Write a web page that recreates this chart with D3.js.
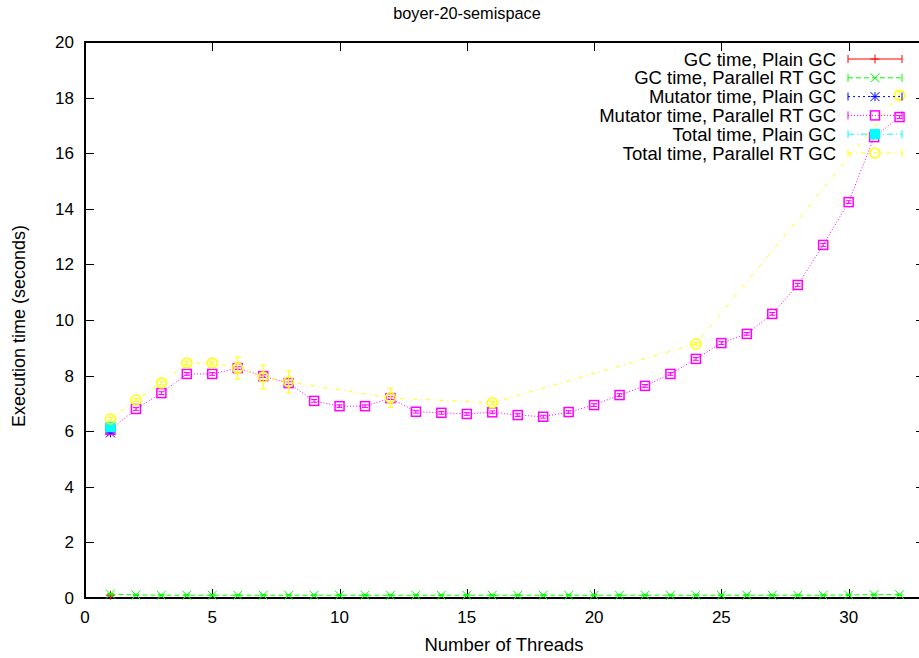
<!DOCTYPE html>
<html>
<head>
<meta charset="utf-8">
<script src="https://cdn.jsdelivr.net/npm/d3@7"></script>
<style>
  body { margin: 0; background: #fff; }
  text { font-family: "Liberation Sans", Arial, sans-serif; font-size: 17px; fill: #000; }
</style>
</head>
<body>
<svg width="919" height="658"></svg>
<script>
// data
var threadsAll = d3.range(1, 33);
var threadsTotalRT = [1, 2, 3, 4, 5, 6, 7, 8, 12, 16, 24, 32];

var gcPlain = [0.1];
var gcPlainErr = [0.03];
var gcRT = [0.14, 0.11, 0.1, 0.1, 0.1, 0.1, 0.1, 0.1, 0.1, 0.1, 0.1, 0.1, 0.1, 0.1, 0.1, 0.1,
            0.1, 0.1, 0.1, 0.1, 0.1, 0.1, 0.1, 0.1, 0.1, 0.1, 0.1, 0.1, 0.1, 0.11, 0.12, 0.12];
var gcRTErr = threadsAll.map(function(){ return 0.02; });
var mutPlain = [5.94];
var mutPlainErr = [0.03];
var mutRT = [6.05, 6.8, 7.37, 8.06, 8.06, 8.27, 7.98, 7.73, 7.09, 6.9, 6.9, 7.19, 6.7, 6.66, 6.62, 6.68,
             6.58, 6.52, 6.69, 6.94, 7.3, 7.63, 8.06, 8.6, 9.17, 9.5, 10.22, 11.26, 12.7, 14.24, 16.58, 17.3];
var mutRTErr = threadsAll.map(function(){ return 0.05; });
var totPlain = [6.15];
var totPlainErr = [0.03];
var totRT = [6.44, 7.12, 7.73, 8.45, 8.45, 8.27, 7.95, 7.77, 7.2, 7.02, 9.14, 18.08];
var totRTErr = [0.05, 0.05, 0.05, 0.05, 0.05, 0.4, 0.42, 0.4, 0.35, 0.05, 0.05, 0.15];

var xTicks = [0, 5, 10, 15, 20, 25, 30];
var yTicks = d3.range(0, 21, 2);

var series = [
  { name: 'GC time, Plain GC', xs: [1], ys: gcPlain, err: gcPlainErr, color: '#ff0000', dash: null, marker: 'plus' },
  { name: 'GC time, Parallel RT GC', xs: threadsAll, ys: gcRT, err: gcRTErr, color: '#00ff00', dash: '5,3', marker: 'cross' },
  { name: 'Mutator time, Plain GC', xs: [1], ys: mutPlain, err: mutPlainErr, color: '#0000ff', dash: '2,3', marker: 'star' },
  { name: 'Mutator time, Parallel RT GC', xs: threadsAll, ys: mutRT, err: mutRTErr, color: '#ff00ff', dash: '1,2', marker: 'square' },
  { name: 'Total time, Plain GC', xs: [1], ys: totPlain, err: totPlainErr, color: '#00ffff', dash: '6,3,1,3', marker: 'fsquare' },
  { name: 'Total time, Parallel RT GC', xs: threadsTotalRT, ys: totRT, err: totRTErr, color: '#ffff00', dash: '4,4,1,4', marker: 'circle' }
];

(function(){
  var svg = d3.select('svg');
  var plotLeft = 85, plotTop = 42, plotBottom = 598, plotRight = 925;

  var x = d3.scaleLinear().domain([0, 33]).range([plotLeft, plotRight]);
  var y = d3.scaleLinear().domain([0, 20]).range([plotBottom, plotTop]);

  // title and axis labels
  svg.append('text').attr('x', 467).attr('y', 19).attr('text-anchor', 'middle')
    .style('font-size', '16.3px').text('boyer-20-semispace');
  svg.append('text').attr('x', 504).attr('y', 651).attr('text-anchor', 'middle')
    .style('font-size', '18.5px').text('Number of Threads');
  svg.append('text').attr('transform', 'translate(25,326) rotate(-90)').attr('text-anchor', 'middle')
    .style('font-size', '18px').text('Execution time (seconds)');

  // ticks, inward and mirrored like gnuplot
  var tickLen = 9;
  var axes = svg.append('g').attr('stroke', '#000').attr('stroke-width', 1);
  yTicks.forEach(function(t){
    var yy = Math.round(y(t)) + 0.5;
    axes.append('line').attr('x1', plotLeft).attr('x2', plotLeft + tickLen).attr('y1', yy).attr('y2', yy);
    axes.append('line').attr('x1', plotRight - tickLen).attr('x2', plotRight).attr('y1', yy).attr('y2', yy);
    svg.append('text').attr('x', plotLeft - 11).attr('y', y(t) + 6).attr('text-anchor', 'end').text(t);
  });
  xTicks.forEach(function(t){
    var xx = Math.round(x(t)) + 0.5;
    axes.append('line').attr('x1', xx).attr('x2', xx).attr('y1', plotBottom).attr('y2', plotBottom - tickLen);
    axes.append('line').attr('x1', xx).attr('x2', xx).attr('y1', plotTop).attr('y2', plotTop + tickLen);
    svg.append('text').attr('x', x(t)).attr('y', plotBottom + 25).attr('text-anchor', 'middle').text(t);
  });
  svg.append('rect').attr('x', plotLeft).attr('y', plotTop)
    .attr('width', plotRight - plotLeft).attr('height', plotBottom - plotTop)
    .attr('fill', 'none').attr('stroke', '#000').attr('stroke-width', 2);

  function drawMarker(g, type, cx, cy, color){
    var s = 4.5;
    if(type === 'plus' || type === 'star'){
      g.append('path').attr('d', 'M' + (cx - s) + ',' + cy + 'H' + (cx + s) + 'M' + cx + ',' + (cy - s) + 'V' + (cy + s))
        .attr('stroke', color).attr('fill', 'none');
    }
    if(type === 'cross' || type === 'star'){
      g.append('path').attr('d', 'M' + (cx - s) + ',' + (cy - s) + 'L' + (cx + s) + ',' + (cy + s) +
        'M' + (cx - s) + ',' + (cy + s) + 'L' + (cx + s) + ',' + (cy - s))
        .attr('stroke', color).attr('fill', 'none');
    }
    if(type === 'square' || type === 'fsquare'){
      g.append('rect').attr('x', cx - s).attr('y', cy - s).attr('width', 2 * s).attr('height', 2 * s)
        .attr('stroke', color).attr('stroke-width', 1.5)
        .attr('fill', type === 'fsquare' ? color : 'none');
    }
    if(type === 'circle'){
      g.append('circle').attr('cx', cx).attr('cy', cy).attr('r', 5)
        .attr('stroke', color).attr('stroke-width', 1.5).attr('fill', 'none');
    }
  }

  var line = d3.line().x(function(d){ return x(d[0]); }).y(function(d){ return y(d[1]); });

  series.forEach(function(s){
    var g = svg.append('g');
    var pts = s.xs.map(function(v, i){ return [v, s.ys[i], s.err[i]]; });
    g.append('path').datum(pts).attr('d', line).attr('fill', 'none')
      .attr('stroke', s.color).attr('stroke-width', 1).attr('stroke-dasharray', s.dash);
    pts.forEach(function(p){
      var cx = x(p[0]), y1 = y(p[1] - p[2]), y2 = y(p[1] + p[2]);
      g.append('path').attr('d', 'M' + cx + ',' + y1 + 'V' + y2 +
        'M' + (cx - 3) + ',' + y1 + 'H' + (cx + 3) + 'M' + (cx - 3) + ',' + y2 + 'H' + (cx + 3))
        .attr('stroke', s.color).attr('fill', 'none');
      drawMarker(g, s.marker, cx, y(p[1]), s.color);
    });
  });

  // legend
  var legend = svg.append('g');
  series.forEach(function(s, i){
    var ly = 59 + i * 18.8;
    legend.append('text').attr('x', 836).attr('y', ly + 6.5).attr('text-anchor', 'end')
      .style('font-size', '18.5px').text(s.name);
    legend.append('line').attr('x1', 848).attr('x2', 902).attr('y1', ly).attr('y2', ly)
      .attr('stroke', s.color).attr('stroke-dasharray', s.dash);
    [848, 902].forEach(function(ex){
      legend.append('line').attr('x1', ex).attr('x2', ex).attr('y1', ly - 4).attr('y2', ly + 4).attr('stroke', s.color);
    });
    drawMarker(legend, s.marker, 875, ly, s.color);
  });
})();
</script>
</body>
</html>
